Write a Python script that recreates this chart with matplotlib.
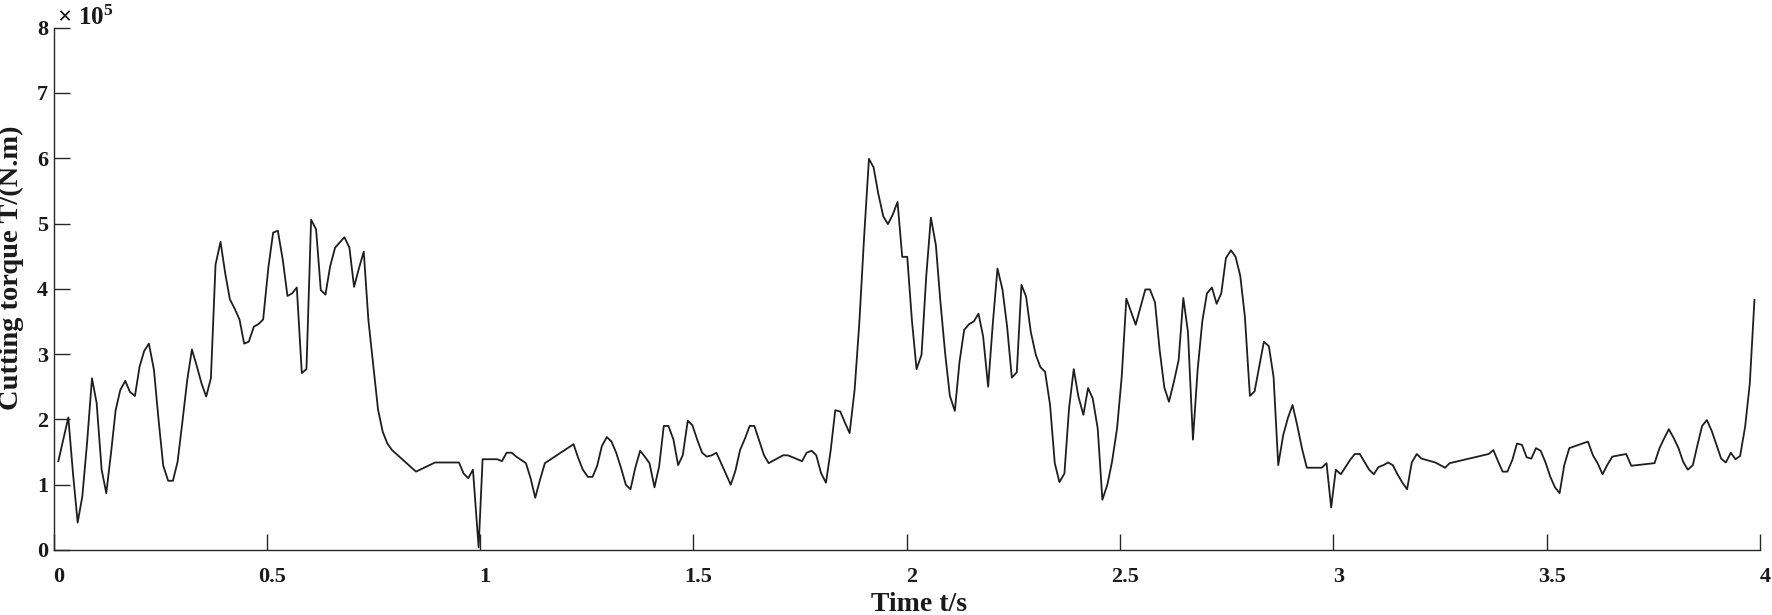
import numpy as np
import matplotlib
matplotlib.use("Agg")
import matplotlib.pyplot as plt
from matplotlib.transforms import ScaledTranslation

# time (s) and cutting torque (x 1e5 N.m)
time_s = [
    0.0113, 0.0347, 0.0457, 0.0566, 0.0675, 0.0785, 0.0902, 0.1011, 0.1128, 0.1237,
    0.1347, 0.1456, 0.1565, 0.1682, 0.1792, 0.1909, 0.2018, 0.2127, 0.2236, 0.2354,
    0.2463, 0.2572, 0.2689, 0.2799, 0.2908, 0.3017, 0.3134, 0.3244, 0.3353, 0.3470,
    0.3579, 0.3689, 0.3798, 0.3915, 0.4024, 0.4134, 0.4251, 0.4360, 0.4469, 0.4578,
    0.4696, 0.4805, 0.4914,
    0.5039, 0.5148, 0.5258, 0.5375, 0.5484, 0.5593, 0.5703, 0.5820, 0.5929, 0.6038,
    0.6155, 0.6265, 0.6374, 0.6483, 0.6600, 0.6709, 0.6819, 0.6936, 0.7045, 0.7154,
    0.7272, 0.7381, 0.7490, 0.7607, 0.7717, 0.7826, 0.7935, 0.8497, 0.8942, 0.9504,
    0.9614, 0.9723, 0.9832,
    0.9965, 1.0058, 1.0402, 1.0511, 1.0621, 1.0738, 1.0847, 1.1073, 1.1183, 1.1292,
    1.1401, 1.1518, 1.2190, 1.2299, 1.2408, 1.2525, 1.2635, 1.2744, 1.2853, 1.2970,
    1.3080, 1.3189, 1.3306, 1.3415, 1.3525, 1.3634, 1.3751, 1.3860, 1.3970, 1.4087,
    1.4196, 1.4305, 1.4414, 1.4532, 1.4641, 1.4750,
    1.4867, 1.4976, 1.5094, 1.5203, 1.5312, 1.5429, 1.5539, 1.5648, 1.5765, 1.5874,
    1.5983, 1.6093, 1.6210, 1.6319, 1.6428, 1.6538, 1.6655, 1.6764, 1.6873, 1.6990,
    1.7100, 1.7209, 1.7326, 1.7435, 1.7545, 1.7654, 1.7771, 1.7880, 1.7990, 1.8107,
    1.8216, 1.8325, 1.8443, 1.8552, 1.8661, 1.8778, 1.8888, 1.8997, 1.9114, 1.9223,
    1.9332, 1.9450, 1.9559, 1.9668,
    1.9785, 1.9894, 2.0012, 2.0121, 2.0230, 2.0347, 2.0457, 2.0566, 2.0683, 2.0792,
    2.0901, 2.1011, 2.1128, 2.1237, 2.1346, 2.1463, 2.1573, 2.1682, 2.1791, 2.1908,
    2.2018, 2.2127, 2.2244, 2.2353, 2.2463, 2.2580, 2.2689, 2.2798, 2.2908, 2.3025,
    2.3134, 2.3243, 2.3360, 2.3470, 2.3579, 2.3696, 2.3805, 2.3915, 2.4024, 2.4141,
    2.4250, 2.4360, 2.4477, 2.4586,
    2.4703, 2.4812, 2.4930, 2.5039, 2.5148, 2.5257, 2.5367, 2.5484, 2.5593, 2.5702,
    2.5820, 2.5929, 2.6038, 2.6147, 2.6264, 2.6374, 2.6483, 2.6592, 2.6709, 2.6819,
    2.6928, 2.7037, 2.7154, 2.7264, 2.7373, 2.7482, 2.7599, 2.7709, 2.7818, 2.7927,
    2.8044, 2.8154, 2.8263, 2.8372, 2.8489, 2.8599, 2.8708, 2.8825, 2.8934, 2.9044,
    2.9153, 2.9270, 2.9379, 2.9504,
    2.9730, 2.9840, 2.9949, 3.0058, 3.0175, 3.0285, 3.0394, 3.0503, 3.0620, 3.0730,
    3.0839, 3.0948, 3.1058, 3.1175, 3.1284, 3.1393, 3.1503, 3.1620, 3.1729, 3.1838,
    3.1955, 3.2065, 3.2392, 3.2619, 3.2728, 3.3641, 3.3751, 3.3860, 3.3969, 3.4079,
    3.4196, 3.4305, 3.4422,
    3.4531, 3.4641, 3.4750, 3.4859, 3.4969, 3.5086, 3.5195, 3.5304, 3.5413, 3.5531,
    3.5968, 3.6085, 3.6194, 3.6311, 3.6420, 3.6538, 3.6865, 3.6983, 3.7529, 3.7646,
    3.7755, 3.7865, 3.7982, 3.8091, 3.8200, 3.8310, 3.8427, 3.8536, 3.8645, 3.8755,
    3.8872, 3.8981, 3.9090, 3.9200, 3.9317, 3.9426, 3.9535, 3.9653, 3.9762, 3.9871,
]
torque_e5 = [
    1.36, 2.03, 1.17, 0.42, 0.82, 1.63, 2.63, 2.25, 1.23, 0.87,
    1.48, 2.14, 2.45, 2.59, 2.42, 2.36, 2.81, 3.05, 3.16, 2.76,
    1.99, 1.29, 1.06, 1.06, 1.35, 1.94, 2.60, 3.07, 2.83, 2.55,
    2.35, 2.63, 4.37, 4.72, 4.24, 3.84, 3.69, 3.53, 3.16, 3.19,
    3.42, 3.46, 3.53,
    4.34, 4.86, 4.89, 4.44, 3.89, 3.93, 4.02, 2.71, 2.77, 5.06,
    4.91, 3.98, 3.91, 4.34, 4.63, 4.71, 4.79, 4.63, 4.03, 4.30,
    4.57, 3.52, 2.86, 2.15, 1.81, 1.63, 1.53, 1.20, 1.34, 1.34,
    1.17, 1.10, 1.23,
    0.04, 1.39, 1.39, 1.36, 1.49, 1.49, 1.43, 1.33, 1.10, 0.80,
    1.07, 1.33, 1.62, 1.41, 1.23, 1.12, 1.12, 1.29, 1.59, 1.73,
    1.66, 1.49, 1.25, 1.00, 0.93, 1.25, 1.52, 1.43, 1.33, 0.96,
    1.28, 1.90, 1.90, 1.69, 1.30, 1.45,
    1.98, 1.91, 1.68, 1.49, 1.43, 1.45, 1.49, 1.33, 1.16, 1.00,
    1.21, 1.53, 1.71, 1.90, 1.90, 1.68, 1.45, 1.33, 1.37, 1.41,
    1.45, 1.45, 1.42, 1.39, 1.36, 1.49, 1.52, 1.45, 1.18, 1.03,
    1.52, 2.14, 2.12, 1.95, 1.79, 2.45, 3.47, 4.75, 5.99, 5.86,
    5.46, 5.11, 4.99, 5.13,
    5.33, 4.49, 4.49, 3.52, 2.77, 2.99, 4.19, 5.09, 4.67, 3.78,
    3.01, 2.36, 2.13, 2.88, 3.37, 3.46, 3.50, 3.62, 3.27, 2.50,
    3.47, 4.31, 3.99, 3.42, 2.64, 2.72, 4.06, 3.88, 3.34, 2.99,
    2.80, 2.73, 2.22, 1.33, 1.04, 1.17, 2.17, 2.77, 2.35, 2.07,
    2.48, 2.32, 1.86, 0.77,
    1.00, 1.35, 1.86, 2.65, 3.85, 3.65, 3.45, 3.73, 3.99, 3.99,
    3.79, 3.06, 2.49, 2.27, 2.58, 2.91, 3.86, 3.34, 1.69, 2.76,
    3.50, 3.93, 4.02, 3.77, 3.93, 4.47, 4.59, 4.49, 4.20, 3.57,
    2.36, 2.43, 2.81, 3.19, 3.12, 2.65, 1.30, 1.76, 2.02, 2.22,
    1.91, 1.54, 1.26, 1.26,
    1.26, 1.33, 0.65, 1.23, 1.16, 1.27, 1.38, 1.47, 1.47, 1.35,
    1.23, 1.16, 1.27, 1.30, 1.34, 1.30, 1.16, 1.03, 0.93, 1.34,
    1.47, 1.40, 1.34, 1.26, 1.33, 1.47, 1.53, 1.36, 1.20, 1.20,
    1.38, 1.63, 1.61,
    1.42, 1.40, 1.56, 1.52, 1.35, 1.12, 0.96, 0.87, 1.30, 1.56,
    1.66, 1.45, 1.33, 1.16, 1.30, 1.43, 1.47, 1.29, 1.33, 1.56,
    1.71, 1.85, 1.71, 1.56, 1.35, 1.23, 1.30, 1.61, 1.90, 1.99,
    1.82, 1.61, 1.40, 1.34, 1.49, 1.39, 1.44, 1.89, 2.55, 3.83,
]
x_ticks = [0, 0.5, 1, 1.5, 2, 2.5, 3, 3.5, 4]
x_tick_labels = ["0", "0.5", "1", "1.5", "2", "2.5", "3", "3.5", "4"]
y_ticks = [0, 1, 2, 3, 4, 5, 6, 7, 8]
y_tick_labels = ["0", "1", "2", "3", "4", "5", "6", "7", "8"]

plt.rcParams["font.family"] = ["Liberation Serif", "DejaVu Serif"]
plt.rcParams["font.weight"] = "bold"
plt.rcParams["mathtext.fontset"] = "custom"
plt.rcParams["mathtext.rm"] = "Liberation Serif:bold"
plt.rcParams["mathtext.it"] = "Liberation Serif:bold"
plt.rcParams["mathtext.bf"] = "Liberation Serif:bold"

torque = np.array(torque_e5) * 1e5
dark = "#262626"

fig = plt.figure(figsize=(17.72, 6.15), dpi=100)
ax = fig.add_axes([0.0302, 0.1057, 0.9630, 0.8494])

ax.plot(time_s, torque, color="#1e1e1e", linewidth=1.3)

ax.set_xlim(0, 4)
ax.set_ylim(0, 8e5)
ax.set_xticks(x_ticks)
ax.set_xticklabels(x_tick_labels)
ax.set_yticks([v * 1e5 for v in y_ticks])
ax.set_yticklabels(y_tick_labels)

for side in ["top", "right"]:
    ax.spines[side].set_visible(False)
for side in ["left", "bottom"]:
    ax.spines[side].set_color(dark)
    ax.spines[side].set_linewidth(1.0)

ax.tick_params(axis="both", direction="in", length=11.3, width=1.0,
               color=dark, labelsize=16, labelcolor="#1a1a1a")
ax.tick_params(axis="x", pad=12)
ax.tick_params(axis="y", pad=4)

# tick labels in the source sit a few pixels right of their ticks
shift = ScaledTranslation(5 / 100, 0, fig.dpi_scale_trans)
for lab in ax.get_xticklabels():
    lab.set_fontweight("bold")
    lab.set_transform(lab.get_transform() + shift)
for lab in ax.get_yticklabels():
    lab.set_fontweight("bold")

# exponent label above the y axis
ax.text(0.0018, 1.005, r"$\times\ 10^{5}$", transform=ax.transAxes,
        fontsize=18, va="baseline", ha="left", color="#1a1a1a")

ax.set_xlabel("Time t/s", fontsize=20, fontweight="bold", color="#1a1a1a")
ax.set_ylabel("Cutting torque T/(N.m)", fontsize=20.5, fontweight="bold", color="#1a1a1a")
ax.xaxis.set_label_coords(0.5073, -0.080)
ax.yaxis.set_label_coords(-0.0171, 0.540)

fig.savefig("out.png", dpi=100)
